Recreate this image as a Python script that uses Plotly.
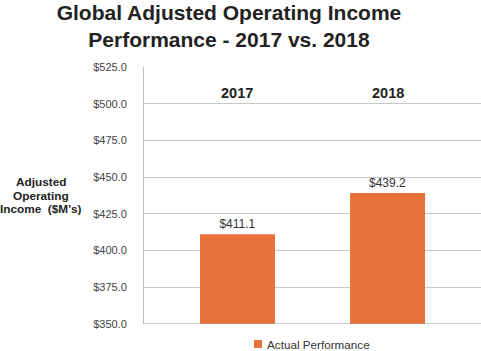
import plotly.graph_objects as go

categories = ["2017", "2018"]
values = [411.1, 439.2]
value_labels = ["$411.1", "$439.2"]
tick_vals = [350, 375, 400, 425, 450, 475, 500, 525]
tick_text = ["$350.0", "$375.0", "$400.0", "$425.0", "$450.0", "$475.0", "$500.0", "$525.0"]
series_name = "Actual Performance"
y_title_lines = ["Adjusted", "Operating", "Income  ($M's)"]
bar_color = "#E8723A"

FONT = "Liberation Sans, Arial, sans-serif"
W, H = 481, 351
L, R, T, B = 144, 0, 67, 27
PW, PH = W - L - R, H - T - B

def px_x(px):
    return (px - L) / PW

def px_y(py):
    return (H - B - py) / PH

fig = go.Figure()
fig.add_trace(go.Bar(
    x=categories, y=values, name=series_name,
    marker=dict(color=bar_color, line=dict(width=0)),
    width=0.5,
    text=value_labels, textposition="outside",
    textfont=dict(family=FONT, size=12, color="#333333"),
    cliponaxis=False, showlegend=False,
))

for i, c in enumerate(categories):
    fig.add_annotation(x=i, y=507.5, xref="x", yref="y", text="<b>" + c + "</b>",
                       showarrow=False, xanchor="center", yanchor="middle",
                       font=dict(family=FONT, size=14.5, color="#222222"))

for i, line in enumerate(y_title_lines):
    fig.add_annotation(
        x=px_x(41), y=px_y(182 + 13.5 * i), xref="paper", yref="paper",
        xanchor="center", yanchor="middle", text="<b>%s</b>" % line, showarrow=False,
        font=dict(family=FONT, size=11.8, color="#222222"),
    )

# legend (manual, to match the compact swatch/text spacing)
fig.add_shape(type="rect", xref="paper", yref="paper",
              x0=px_x(254), x1=px_x(262), y0=px_y(348), y1=px_y(340),
              fillcolor=bar_color, line=dict(width=0))
fig.add_annotation(x=px_x(265), y=px_y(344.5), xref="paper", yref="paper",
                   xanchor="left", yanchor="middle", text=series_name, showarrow=False,
                   font=dict(family=FONT, size=11.7, color="#333333"))

fig.update_layout(
    width=W, height=H,
    margin=dict(l=L, r=R, t=T, b=B),
    paper_bgcolor="white", plot_bgcolor="white",
    title=dict(text="<b>Global Adjusted Operating Income<br>Performance - 2017 vs. 2018</b>",
               x=229 / W, xanchor="center", y=1 - 20 / H, yanchor="middle",
               font=dict(family=FONT, size=21, color="#222222")),
    showlegend=False,
)
fig.update_xaxes(type="category", range=[-0.623, 1.623], showticklabels=False,
                 showgrid=False, showline=False, zeroline=False)
fig.update_yaxes(range=[350, 525], tickvals=tick_vals, ticktext=tick_text,
                 showgrid=True, gridcolor="#C8C8C8", gridwidth=1,
                 showline=True, linecolor="#BDBDBD", linewidth=1, mirror=False,
                 zeroline=False, ticks="", ticklabelstandoff=14,
                 tickfont=dict(family=FONT, size=11, color="#444444"))
fig.add_shape(type="line", xref="paper", yref="y", x0=0, x1=1, y0=350, y1=350,
              line=dict(color="#9E9E9E", width=1))

fig.write_html("out.html")
